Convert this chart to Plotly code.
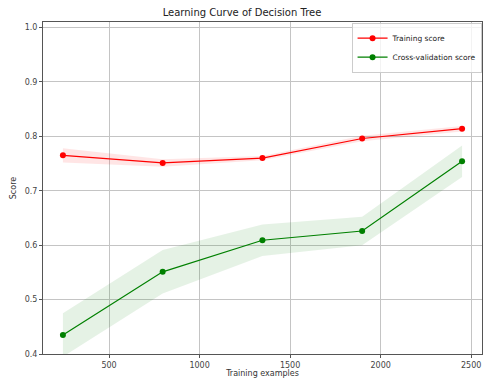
import plotly.graph_objects as go

train_sizes = [245, 796, 1347, 1898, 2450]
train_mean = [0.765, 0.751, 0.760, 0.796, 0.814]
train_std = [0.013, 0.007, 0.004, 0.005, 0.005]
cv_mean = [0.435, 0.551, 0.609, 0.626, 0.754]
cv_std = [0.040, 0.040, 0.029, 0.026, 0.029]

fig = go.Figure()

def band(x, m, s, color):
    up = [a + b for a, b in zip(m, s)]
    lo = [a - b for a, b in zip(m, s)]
    fig.add_trace(go.Scatter(x=x, y=up, mode="lines", line=dict(width=0), showlegend=False, hoverinfo="skip"))
    fig.add_trace(go.Scatter(x=x, y=lo, mode="lines", line=dict(width=0), fill="tonexty",
                             fillcolor=color, showlegend=False, hoverinfo="skip"))

band(train_sizes, train_mean, train_std, "rgba(255,0,0,0.1)")
band(train_sizes, cv_mean, cv_std, "rgba(0,128,0,0.1)")

fig.add_trace(go.Scatter(x=train_sizes, y=train_mean, mode="lines+markers", name="Training score",
                         line=dict(color="red", width=1.2), marker=dict(color="red", size=6)))
fig.add_trace(go.Scatter(x=train_sizes, y=cv_mean, mode="lines+markers", name="Cross-validation score",
                         line=dict(color="green", width=1.2), marker=dict(color="green", size=6)))

axis_common = dict(showgrid=True, gridcolor="#c4c4c4", gridwidth=1, zeroline=False,
                   showline=True, linecolor="#555555", linewidth=1, mirror=True,
                   ticks="outside", ticklen=3, tickcolor="#555555", automargin=False,
                   tickfont=dict(family="DejaVu Sans", size=8, color="#444444"))

fig.update_layout(
    width=484, height=378,
    margin=dict(l=43, r=2, t=22, b=24),
    paper_bgcolor="white", plot_bgcolor="white",
    title=dict(text="Learning Curve of Decision Tree", x=0.5, xanchor="center", y=0.975, yanchor="top",
               font=dict(family="DejaVu Sans", size=10, color="#222222")),
    xaxis=dict(range=[135, 2560], tickvals=[500, 1000, 1500, 2000, 2500],
               title=dict(text="Training examples", standoff=2,
                          font=dict(family="DejaVu Sans", size=8, color="#333333")),
               **axis_common),
    yaxis=dict(range=[0.4, 1.01], tickvals=[0.4, 0.5, 0.6, 0.7, 0.8, 0.9, 1.0], tickformat=".1f",
               title=dict(text="Score", standoff=6,
                          font=dict(family="DejaVu Sans", size=8, color="#333333")),
               **axis_common),
    legend=dict(x=0.999, y=0.998, xanchor="right", yanchor="top", bgcolor="rgba(255,255,255,0.8)",
                bordercolor="#cccccc", borderwidth=1, traceorder="normal",
                font=dict(family="DejaVu Sans", size=7.5, color="#222222"),
                tracegroupgap=0, itemwidth=30),
)

fig.write_html("out.html", config={"displayModeBar": False},
               post_script="document.body.style.margin='0';document.body.style.overflow='hidden';")
